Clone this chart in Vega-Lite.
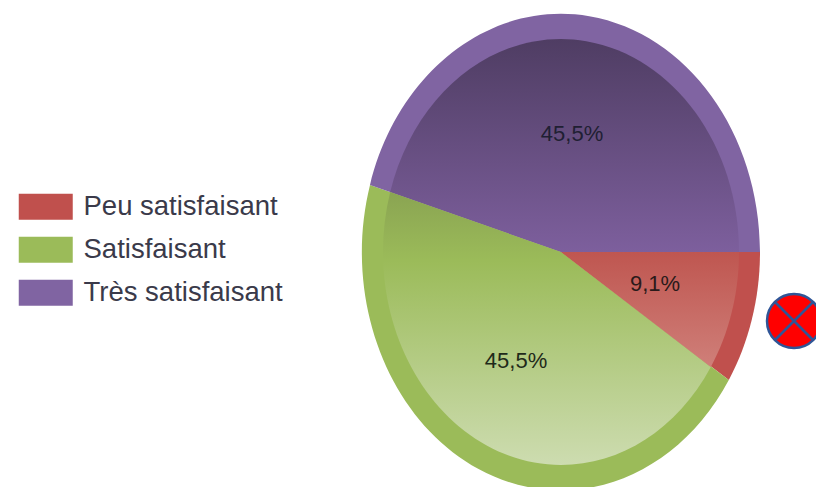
{
"$schema":"https://vega.github.io/schema/vega-lite/v6.json",
"width":398,"height":470,
"autosize":{"type":"none"},
"padding":{"left":362,"top":17,"right":56,"bottom":0},
"background":"white",
"config":{"view":{"stroke":null}},
"data":{"values":[
{"niveau":"Peu satisfaisant","part":9.1,"label":"9,1%"},
{"niveau":"Satisfaisant","part":45.5,"label":"45,5%"},
{"niveau":"Très satisfaisant","part":45.5,"label":"45,5%"}
]},
"encoding":{
  "color":{"field":"niveau","type":"nominal","scale":{"domain":["Peu satisfaisant","Satisfaisant","Très satisfaisant"],"range":["#c0504d","#9bbb59","#8064a2"]},
   "legend":{"title":null,"orient":"none","legendX":-357,"legendY":176,"symbolType":"M0,-13H54V13H0Z","symbolSize":4,"symbolOpacity":1,"symbolStrokeWidth":0,"labelFont":"Liberation Sans","labelFontSize":27.5,"labelColor":"#3a3a4a","labelOffset":51,"rowPadding":14,"labelLimit":260}}
},
"layer":[
{"transform":[{"filter":"datum.niveau==='Peu satisfaisant'"}],
 "mark":{"type":"point","filled":true,"opacity":1,"size":4,"strokeWidth":0,"shape":"M0,0L167.8,128A199,238 0 0,0 199,0Z"}},
{"transform":[{"filter":"datum.niveau==='Satisfaisant'"}],
 "mark":{"type":"point","filled":true,"opacity":1,"size":4,"strokeWidth":0,"shape":"M0,0L-191,-67A199,238 0 0,0 167.8,128Z"}},
{"transform":[{"filter":"datum.niveau==='Très satisfaisant'"}],
 "mark":{"type":"point","filled":true,"opacity":1,"size":4,"strokeWidth":0,"shape":"M0,0L199,0A199,238 0 0,0 -191,-67Z"}},
{"transform":[{"filter":"datum.niveau==='Très satisfaisant'"}],
 "mark":{"type":"point","filled":true,"opacity":1,"size":4,"strokeWidth":0,"shape":"M0,0L178,0A178,213 0 0,0 -170.8,-60Z",
  "fill":{"gradient":"linear","x1":0,"y1":0,"x2":0,"y2":1,"stops":[{"offset":0,"color":"#4f3d63"},{"offset":1,"color":"#7d5f9d"}]}},
 "encoding":{"color":{"value":null}}},
{"transform":[{"filter":"datum.niveau==='Satisfaisant'"}],
 "mark":{"type":"point","filled":true,"opacity":1,"size":4,"strokeWidth":0,"shape":"M0,0L-170.8,-60A178,213 0 0,0 149.8,115Z",
  "fill":{"gradient":"linear","x1":0,"y1":0,"x2":0,"y2":1,"stops":[{"offset":0,"color":"#8aa452"},{"offset":0.25,"color":"#9bbb59"},{"offset":1,"color":"#cddcb0"}]}},
 "encoding":{"color":{"value":null}}},
{"transform":[{"filter":"datum.niveau==='Peu satisfaisant'"}],
 "mark":{"type":"point","filled":true,"opacity":1,"size":4,"strokeWidth":0,"shape":"M0,0L149.8,115A178,213 0 0,0 178,0Z",
  "fill":{"gradient":"linear","x1":0,"y1":0,"x2":0,"y2":1,"stops":[{"offset":0,"color":"#bf5650"},{"offset":1,"color":"#cf7f79"}]}},
 "encoding":{"color":{"value":null}}},
{"transform":[{"filter":"datum.niveau==='Très satisfaisant'"}],
 "mark":{"type":"text","font":"Liberation Sans","fontSize":22,"fill":"#1f1f33","dx":11,"dy":-118},
 "encoding":{"text":{"field":"label"},"color":{"value":"#1f1f33"}}},
{"transform":[{"filter":"datum.niveau==='Satisfaisant'"}],
 "mark":{"type":"text","font":"Liberation Sans","fontSize":22,"dx":-45,"dy":109},
 "encoding":{"text":{"field":"label"},"color":{"value":"#1f2a1a"}}},
{"transform":[{"filter":"datum.niveau==='Peu satisfaisant'"}],
 "mark":{"type":"text","font":"Liberation Sans","fontSize":22,"dx":94,"dy":32},
 "encoding":{"text":{"field":"label"},"color":{"value":"#2a1a1a"}}},
{"data":{"values":[{"repere":"croix"}]},
 "mark":{"type":"point","filled":false,"opacity":1,"size":4,"fill":"#ff0000","fillOpacity":1,"stroke":"#2f5597","strokeWidth":2.5,
  "shape":"M206,69A27,27 0 1,1 260,69A27,27 0 1,1 206,69ZM214,50L252,88M252,50L214,88"},
 "encoding":{"color":{"value":null}}}
]
}
